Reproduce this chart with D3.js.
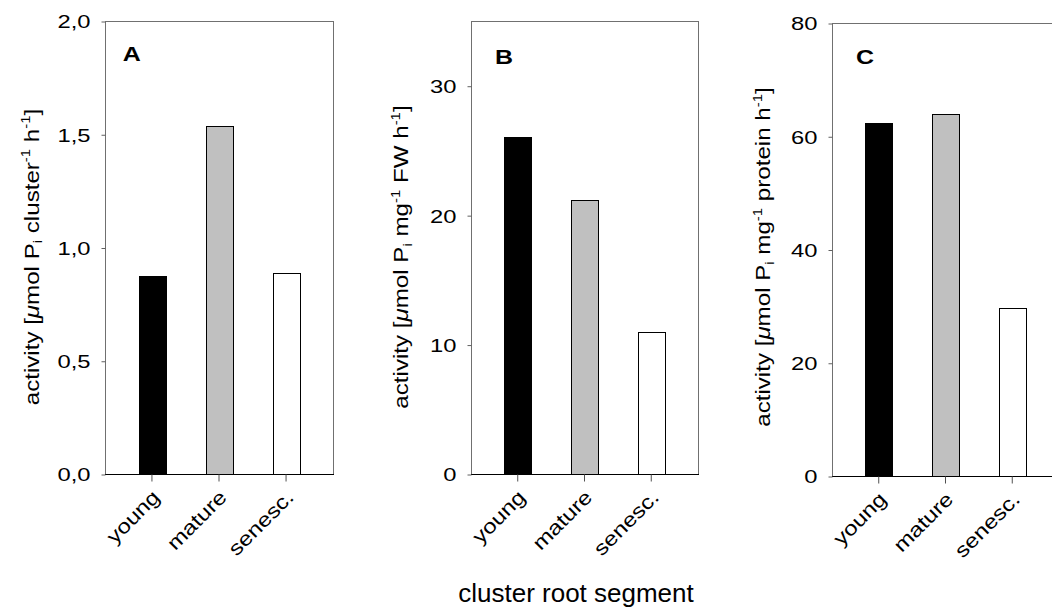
<!DOCTYPE html>
<html>
<head>
<meta charset="utf-8">
<script src="https://cdn.jsdelivr.net/npm/d3@7"></script>
<style>
  body { margin: 0; background: #fff; }
  svg { display: block; font-family: "Liberation Sans", Arial, sans-serif; }
</style>
</head>
<body>
<svg id="chart" width="1052" height="610"></svg>
<script>
// data
var categories = ["young", "mature", "senesc."];
var perCluster = [0.873, 1.536, 0.889];   // µmol Pi cluster-1 h-1
var perFW = [26.06, 21.15, 11.0];         // µmol Pi mg-1 FW h-1
var perProtein = [62.35, 63.9, 29.6];     // µmol Pi mg-1 protein h-1
var ticksA = [0, 0.5, 1.0, 1.5, 2.0];
var ticksB = [0, 10, 20, 30];
var ticksC = [0, 20, 40, 60, 80];
var barFills = ["#000000", "#c0c0c0", "#ffffff"];

var svg = d3.select("#chart");
var fmtComma = function (d) { return d3.format(".1f")(d).replace(".", ","); };

// panel layout
var panels = [
  { letter: "A", values: perCluster, max: 2.0, ticks: ticksA, fmt: fmtComma,
    left: 105, right: 333, top: 21, bottom: 474, labelX: 38.5, letterPos: [122.7, 61],
    unit: ["cluster"] },
  { letter: "B", values: perFW, max: 35, ticks: ticksB, fmt: d3.format("d"),
    left: 471, right: 698, top: 21, bottom: 474, labelX: 408, letterPos: [495, 64],
    unit: ["mg", "FW"] },
  { letter: "C", values: perProtein, max: 80, ticks: ticksC, fmt: d3.format("d"),
    left: 832, right: 1059, top: 23, bottom: 476, labelX: 770, letterPos: [856, 64.3],
    unit: ["mg", "protein"] }
];

var SX = 1.25; // figure text is drawn wider than normal

panels.forEach(function (p) {
  var g = svg.append("g");

  var x = d3.scaleBand().domain(categories).range([p.left, p.right])
    .paddingInner(0.6).paddingOuter(0.5);
  var y = d3.scaleLinear().domain([0, p.max]).range([p.bottom, p.top]);

  // frame
  g.append("rect")
    .attr("x", p.left + 0.5).attr("y", Math.round(p.top) + 0.5)
    .attr("width", p.right - p.left).attr("height", p.bottom - Math.round(p.top))
    .attr("fill", "none").attr("stroke", "#707070").attr("stroke-width", 1);

  // bars
  g.selectAll(".bar").data(p.values).enter().append("rect")
    .attr("class", "bar")
    .attr("x", function (d, i) { return Math.round(x(categories[i])) + 0.5; })
    .attr("y", function (d) { return Math.round(y(d)) + 0.5; })
    .attr("width", Math.round(x.bandwidth()))
    .attr("height", function (d) { return p.bottom - Math.round(y(d)); })
    .attr("fill", function (d, i) { return barFills[i]; })
    .attr("stroke", "#000").attr("stroke-width", 1);

  // bottom axis line
  g.append("line")
    .attr("x1", p.left).attr("x2", p.right + 1)
    .attr("y1", p.bottom + 0.5).attr("y2", p.bottom + 0.5)
    .attr("stroke", "#000");

  // y axis
  var ya = g.append("g").attr("transform", "translate(" + (p.left + 0.5) + ",0.5)")
    .call(d3.axisLeft(y).tickValues(p.ticks).tickFormat(p.fmt).tickSize(4).tickSizeOuter(0));
  ya.select(".domain").remove();
  ya.selectAll(".tick line").attr("stroke", "#606060");
  ya.selectAll(".tick text")
    .attr("x", null).attr("dy", "0.34em")
    .attr("transform", "translate(-15,0) scale(" + SX + ",1)")
    .attr("font-size", 19).attr("fill", "#000").attr("font-family", null);

  // x axis
  var xa = g.append("g").attr("transform", "translate(0," + (p.bottom + 0.5) + ")")
    .call(d3.axisBottom(x).tickSize(7).tickSizeOuter(0));
  xa.select(".domain").remove();
  xa.selectAll(".tick line").attr("stroke", "#505050");
  xa.selectAll(".tick text")
    .attr("y", null).attr("dy", null)
    .attr("text-anchor", "end")
    .attr("transform", "translate(9,24) rotate(-45) scale(1.2,1)")
    .attr("font-size", 20).attr("fill", "#000").attr("font-family", null);

  // panel letter
  g.append("text")
    .attr("transform", "translate(" + p.letterPos[0] + "," + p.letterPos[1] + ") scale(" + SX + ",1)")
    .attr("font-size", 20).attr("font-weight", "bold")
    .text(p.letter);

  // y label
  var lab = g.append("text")
    .attr("transform", "translate(" + p.labelX + ",257) rotate(-90) scale(1.15,1)")
    .attr("text-anchor", "middle").attr("font-size", 21);
  lab.append("tspan").text("activity [");
  lab.append("tspan").attr("font-style", "italic").text("\u03bc");
  lab.append("tspan").text("mol P");
  lab.append("tspan").attr("font-size", 13).attr("baseline-shift", "-4").text("i");
  lab.append("tspan").text(" " + p.unit[0]);
  lab.append("tspan").attr("font-size", 13).attr("baseline-shift", "8").text("-1");
  if (p.unit.length > 1) lab.append("tspan").text(" " + p.unit[1]);
  lab.append("tspan").text(" h");
  lab.append("tspan").attr("font-size", 13).attr("baseline-shift", "8").text("-1");
  lab.append("tspan").text("]");
});

// shared x title
svg.append("text")
  .attr("x", 576).attr("y", 601.5)
  .attr("text-anchor", "middle").attr("font-size", 26)
  .text("cluster root segment");
</script>
</body>
</html>
